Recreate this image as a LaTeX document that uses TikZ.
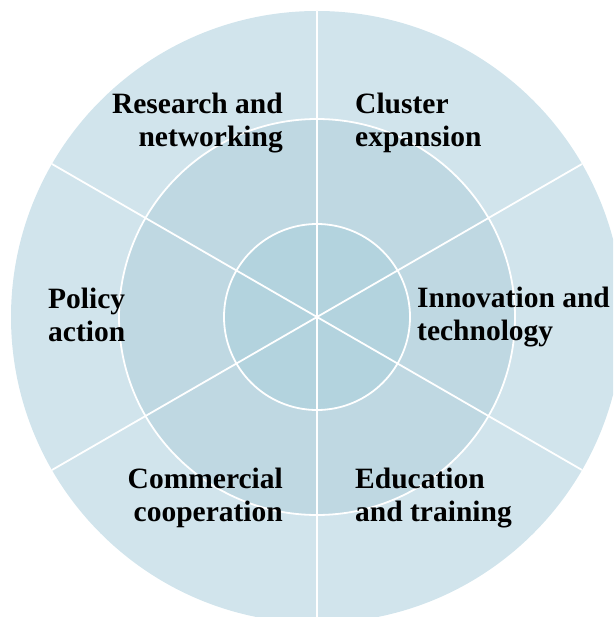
\documentclass[tikz,border=0pt]{standalone}
\usepackage{fontspec}
\setmainfont{Liberation Serif}
\usetikzlibrary{calc}
\definecolor{ringouter}{RGB}{209,228,236}
\definecolor{ringmid}{RGB}{191,216,226}
\definecolor{ringinner}{RGB}{179,211,222}
\tikzset{
  ring/.style={draw=white, line width=1.8pt},
  spoke/.style={draw=white, line width=1.8pt},
  lbl/.style={inner sep=0pt, font=\fontsize{29.5}{33}\selectfont\bfseries},
  lbll/.style={lbl, align=right, anchor=base east},
  lblr/.style={lbl, align=left, anchor=base west}
}
\begin{document}
\begin{tikzpicture}[x=1pt,y=-1pt]
\useasboundingbox (0,0) rectangle (613,617);
\clip (0,0) rectangle (613,617);
\coordinate (c) at (317,317);
\fill[ringouter] (c) circle[radius=306];
\path[ring, fill=ringmid] (c) circle[radius=198];
\path[ring, fill=ringinner] (c) circle[radius=93];
\coordinate (t) at ($(c)+(0,-306)$);
\coordinate (b) at ($(c)+(0,306)$);
\coordinate (ul) at ($(c)+(150:306)$);
\coordinate (lr) at ($(c)+(-30:306)$);
\coordinate (ll) at ($(c)+(210:306)$);
\coordinate (ur) at ($(c)+(30:306)$);
\draw[spoke] (t) -- (b);
\draw[spoke] (ul) -- (lr);
\draw[spoke] (ll) -- (ur);
\node[lbll] (rn) at (283,147) {Research and\\networking};
\node[lblr] (ce) at (355,147) {Cluster\\expansion};
\node[lblr] (pa) at (48,341) {Policy\\action};
\node[lblr] (it) at (417,340) {Innovation and\\technology};
\node[lbll] (cc) at (283,521) {Commercial\\cooperation};
\node[lblr] (et) at (355,521) {Education\\and training};
\end{tikzpicture}
\end{document}
